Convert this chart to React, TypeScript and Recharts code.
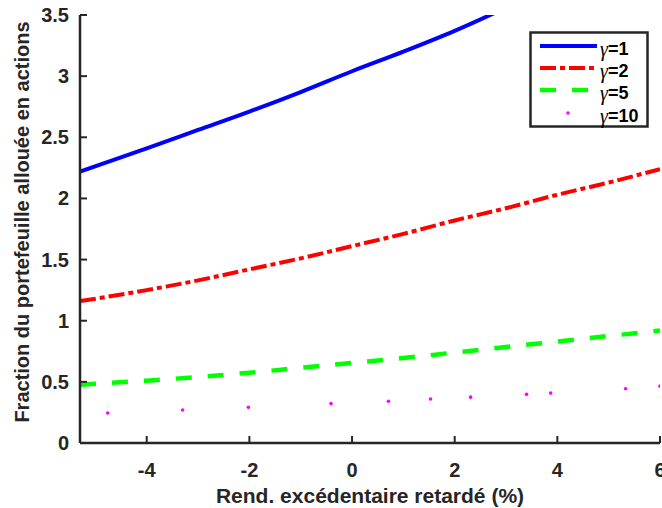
import React from 'react';
import { ComposedChart, Line, Scatter, XAxis, YAxis } from 'recharts';

// valeurs
const xGrid = [-5.3, -4, -3, -2, -1, 0, 1, 2, 3, 4, 5, 6];
const gamma1 = [2.22, 2.41, 2.56, 2.71, 2.87, 3.04, 3.2, 3.37, 3.56];
const gamma2 = [1.16, 1.25, 1.33, 1.42, 1.51, 1.61, 1.71, 1.82, 1.92, 2.03, 2.13, 2.24];
const gamma5 = [0.476, 0.51, 0.54, 0.575, 0.615, 0.655, 0.695, 0.74, 0.785, 0.83, 0.875, 0.92];
const gamma10X = [-4.76, -3.3, -2.02, -0.41, 0.71, 1.53, 2.31, 3.4, 3.87, 5.33, 6.0];
const gamma10Y = [0.245, 0.27, 0.292, 0.322, 0.341, 0.36, 0.375, 0.398, 0.408, 0.444, 0.465];

const xTicks = [-4, -2, 0, 2, 4, 6];
const yTicks = [0, 0.5, 1, 1.5, 2, 2.5, 3, 3.5];
const xDomain = [-5.3, 6];
const yDomain = [0, 3.5];

const legendLabels = ['=1', '=2', '=5', '=10'];

const AX = '#262626';
const FONT = '"Liberation Sans", Arial, sans-serif';
const TM = 4;

const toRows = (ys: number[], xs: number[] = xGrid) => ys.map((y, i) => ({ x: xs[i], y }));

const BottomTick = ({ x, y, payload }: any) => {
  const ay = y - TM;
  return (
    <g>
      <line x1={x} x2={x} y1={ay} y2={ay - 7} stroke={AX} strokeWidth={2} />
      <text x={x} y={ay + 27} textAnchor="middle" dominantBaseline="central" fill={AX}
        fontFamily={FONT} fontWeight="bold" fontSize={20}>{payload.value}</text>
    </g>
  );
};

const LeftTick = ({ x, y, payload }: any) => {
  const ax = x + TM;
  return (
    <g>
      <line x1={ax} x2={ax + 7} y1={y} y2={y} stroke={AX} strokeWidth={2} />
      <text x={ax - 11} y={y} textAnchor="end" dominantBaseline="central" fill={AX}
        fontFamily={FONT} fontWeight="bold" fontSize={20}>{payload.value}</text>
    </g>
  );
};

const TopTick = ({ x, y }: any) => (
  <line x1={x} x2={x} y1={y} y2={y + 7} stroke={AX} strokeWidth={2} />
);

const RightTick = ({ x, y }: any) => (
  <line x1={x} x2={x - 7} y1={y} y2={y} stroke={AX} strokeWidth={2} />
);

const XTitle = ({ viewBox }: any) => (
  <text x={viewBox.x + viewBox.width / 2} y={viewBox.y + 52} textAnchor="middle" dominantBaseline="central"
    fill={AX} fontFamily={FONT} fontWeight="bold" fontSize={21}>
    Rend. excédentaire retardé (%)
  </text>
);

const YTitle = ({ viewBox }: any) => {
  const cy = viewBox.y + viewBox.height / 2 - 7;
  return (
    <text x={22} y={cy} transform={`rotate(-90 22 ${cy})`} textAnchor="middle" dominantBaseline="central"
      fill={AX} fontFamily={FONT} fontWeight="bold" fontSize={20}>
      Fraction du portefeuille allouée en actions
    </text>
  );
};

const legendStyles = [
  { stroke: '#0000ff', dash: undefined, width: 4 },
  { stroke: '#ff0000', dash: '16 4 5 4', width: 4 },
  { stroke: '#00ff00', dash: '16 16', width: 4.5 },
];

function GammaLegend() {
  const rows = [15, 37, 59, 82];
  return (
    <svg width={121} height={98} style={{ position: 'absolute', left: 529, top: 31 }}>
      <rect x={1.5} y={1.5} width={117} height={94} fill="#fff" stroke={AX} strokeWidth={2.5} />
      {legendStyles.map((s, i) => (
        <line key={i} x1={11} x2={68} y1={rows[i]} y2={rows[i]} stroke={s.stroke}
          strokeWidth={s.width} strokeDasharray={s.dash} />
      ))}
      <circle cx={39} cy={rows[3]} r={1.8} fill="#ff00ff" />
      {legendLabels.map((l, i) => (
        <text key={l} x={71} y={rows[i] + 3} dominantBaseline="central" fill="#000">
          <tspan fontFamily='"Liberation Serif", serif' fontStyle="italic" fontSize={20}>γ</tspan>
          <tspan fontFamily={FONT} fontWeight="bold" fontSize={18}>{l}</tspan>
        </text>
      ))}
    </svg>
  );
}

export default function App() {
  return (
    <div style={{ position: 'absolute', left: 0, top: 0, width: 662, height: 508, background: '#fff' }}>
      <ComposedChart width={662} height={508} margin={{ top: 15, right: 2, left: 0, bottom: 0 }}>
        <XAxis dataKey="x" type="number" domain={xDomain} ticks={xTicks} interval={0} allowDataOverflow
          height={65} tickSize={0} tickMargin={TM} tickLine={false} tick={<BottomTick />}
          axisLine={{ stroke: AX, strokeWidth: 2.5 }} label={<XTitle />} />
        <XAxis xAxisId="top" orientation="top" dataKey="x" type="number" domain={xDomain} ticks={xTicks}
          interval={0} allowDataOverflow height={0} tickSize={0} tickMargin={0} tickLine={false}
          tick={<TopTick />} axisLine={{ stroke: AX, strokeWidth: 2.5 }} />
        <YAxis type="number" domain={yDomain} ticks={yTicks} interval={0} allowDataOverflow width={80}
          tickSize={0} tickMargin={TM} tickLine={false} tick={<LeftTick />}
          axisLine={{ stroke: AX, strokeWidth: 2.5 }} label={<YTitle />} />
        <YAxis yAxisId="right" orientation="right" type="number" domain={yDomain} ticks={yTicks} interval={0}
          allowDataOverflow width={0} tickSize={0} tickMargin={0} tickLine={false} tick={<RightTick />}
          axisLine={{ stroke: AX, strokeWidth: 2.5 }} />
        <Line data={toRows(gamma1)} dataKey="y" type="monotone" stroke="#0000ff" strokeWidth={4}
          dot={false} activeDot={false} isAnimationActive={false} />
        <Line data={toRows(gamma2)} dataKey="y" type="monotone" stroke="#ff0000" strokeWidth={4}
          strokeDasharray="16 4 5 4" dot={false} activeDot={false} isAnimationActive={false} />
        <Line data={toRows(gamma5)} dataKey="y" type="monotone" stroke="#00ff00" strokeWidth={4.5}
          strokeDasharray="16 16" dot={false} activeDot={false} isAnimationActive={false} />
        <Scatter data={toRows(gamma10Y, gamma10X)} dataKey="y" fill="#ff00ff" isAnimationActive={false}
          shape={(p: any) => <circle cx={p.cx} cy={p.cy} r={1.8} fill="#ff00ff" />} />
      </ComposedChart>
      <GammaLegend />
    </div>
  );
}
